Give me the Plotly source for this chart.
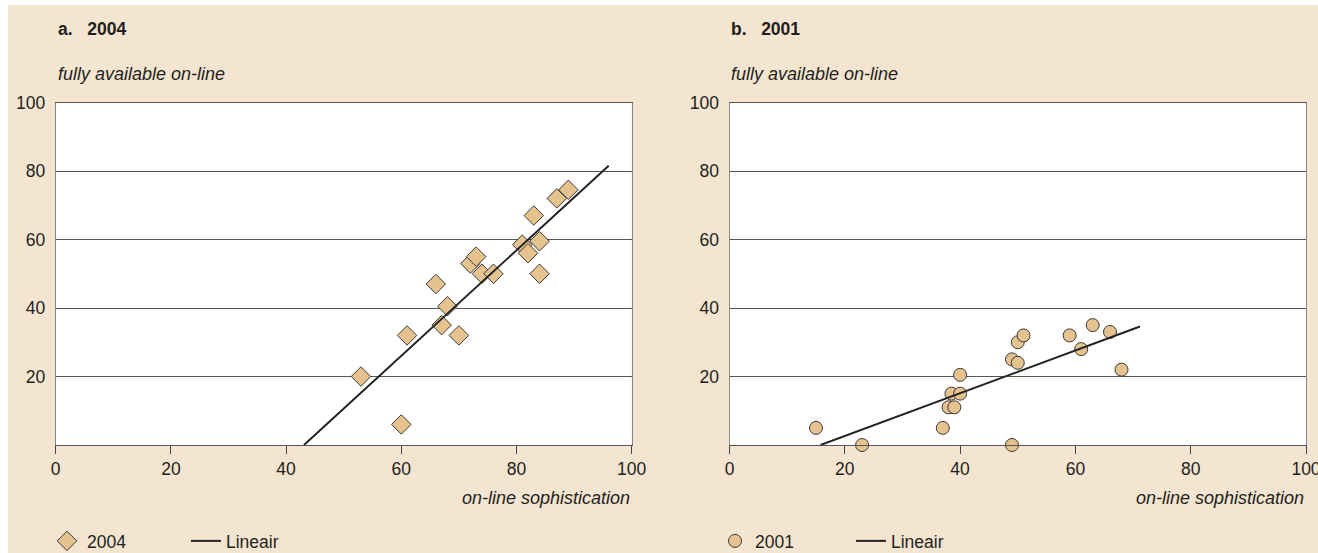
import plotly.graph_objects as go

# ---------------- data ----------------
a_x = [53, 60, 61, 66, 67, 68, 70, 72, 73, 74, 76, 81, 82, 83, 84, 84, 87, 89]
a_y = [20, 6, 32, 47, 35, 40.5, 32, 53, 55, 50, 50, 58.5, 56, 67, 59.5, 50, 72, 74.5]
a_trend_x = [43.1, 96.0]
a_trend_y = [0.0, 81.5]

b_x = [15, 23, 37, 38, 39, 38.5, 40, 40, 49, 49, 50, 50, 51, 59, 61, 63, 66, 68]
b_y = [5, 0, 5, 11, 11, 15, 15, 20.5, 0, 25, 24, 30, 32, 32, 28, 35, 33, 22]
b_trend_x = [15.8, 71.2]
b_trend_y = [0.0, 34.6]

x_ticks = [0, 20, 40, 60, 80, 100]
y_ticks = [20, 40, 60, 80, 100]

NB = "\u00a0"
panel_titles = ["a." + NB * 3 + "2004", "b." + NB * 3 + "2001"]
y_title = "fully available on-line"
x_title = "on-line sophistication"
series_names = ["2004", "2001"]
trend_name = "Lineair"

# ---------------- style ----------------
W, H = 1318, 553
BEIGE = "#F4E5D1"
FILL = "#E5C28E"
EDGE = "#3a3a3a"
TXT = "#231F20"
FONT = "Liberation Sans, Arial, sans-serif"
FS = 17.5


def fx(p):
    return p / W


def fy(p):
    return 1 - p / H


top_px, bot_px = 102.5, 445.0
dom_a = [fx(55.7), fx(631.7)]
dom_b = [fx(729.5), fx(1306.0)]
dom_y = [fy(bot_px), fy(top_px)]

fig = go.Figure()

fig.add_trace(go.Scatter(
    x=a_x, y=a_y, mode="markers", name=series_names[0],
    marker=dict(symbol="diamond", size=15, color=FILL, line=dict(color=EDGE, width=1)),
    xaxis="x", yaxis="y", legend="legend", cliponaxis=False))
fig.add_trace(go.Scatter(
    x=a_trend_x, y=a_trend_y, mode="lines", name=trend_name,
    line=dict(color="#222", width=2), xaxis="x", yaxis="y", legend="legend"))
fig.add_trace(go.Scatter(
    x=b_x, y=b_y, mode="markers", name=series_names[1],
    marker=dict(symbol="circle", size=13, color=FILL, line=dict(color=EDGE, width=1)),
    xaxis="x2", yaxis="y2", legend="legend2", cliponaxis=False))
fig.add_trace(go.Scatter(
    x=b_trend_x, y=b_trend_y, mode="lines", name=trend_name,
    line=dict(color="#222", width=2), xaxis="x2", yaxis="y2", legend="legend2"))

xax = dict(range=[0, 100], tickvals=x_ticks, showgrid=False, zeroline=False,
           showline=True, linecolor="#555", linewidth=1, mirror=True,
           ticks="outside", ticklen=8, tickcolor="#444", tickwidth=1,
           ticklabeloverflow="allow",
           tickfont=dict(size=FS, color=TXT, family=FONT), fixedrange=True)
yax = dict(range=[0, 100], tickvals=y_ticks, showgrid=True, gridcolor="#555", gridwidth=1,
           zeroline=False, showline=True, linecolor="#888", linewidth=1, mirror=True,
           ticks="", ticklabelstandoff=6,
           tickfont=dict(size=FS, color=TXT, family=FONT), fixedrange=True)

leg_common = dict(orientation="h", xref="container", yref="container",
                  yanchor="middle", y=fy(541), xanchor="left",
                  bgcolor="rgba(0,0,0,0)", borderwidth=0,
                  font=dict(size=FS, color=TXT, family=FONT),
                  entrywidthmode="pixels", itemclick=False, itemdoubleclick=False)

fig.update_layout(
    width=W, height=H,
    margin=dict(l=0, r=0, t=0, b=0, autoexpand=False),
    paper_bgcolor=BEIGE, plot_bgcolor="white",
    font=dict(family=FONT, color=TXT, size=FS),
    xaxis=dict(domain=dom_a, anchor="y", **xax),
    yaxis=dict(domain=dom_y, anchor="x", **yax),
    xaxis2=dict(domain=dom_b, anchor="y2", **xax),
    yaxis2=dict(domain=dom_y, anchor="x2", **yax),
    legend=dict(x=fx(47), entrywidth=94, **leg_common),
    legend2=dict(x=fx(715), entrywidth=91, **leg_common),
    showlegend=True,
)

# white page strips around the beige panel
fig.add_shape(type="rect", xref="paper", yref="paper", x0=0, x1=1, y0=fy(5), y1=1,
              fillcolor="white", line=dict(width=0), layer="below")
fig.add_shape(type="rect", xref="paper", yref="paper", x0=0, x1=fx(8), y0=0, y1=1,
              fillcolor="white", line=dict(width=0), layer="below")

ann = []
for title, left in zip(panel_titles, [56, 729]):
    ann.append(dict(text="<b>" + title + "</b>", x=fx(left), y=fy(29), xref="paper", yref="paper",
                    xanchor="left", yanchor="middle", showarrow=False,
                    font=dict(size=FS, color=TXT, family=FONT)))
    ann.append(dict(text="<i>" + y_title + "</i>", x=fx(left), y=fy(74), xref="paper", yref="paper",
                    xanchor="left", yanchor="middle", showarrow=False,
                    font=dict(size=18, color=TXT, family=FONT)))
for right in [631.7, 1306.0]:
    ann.append(dict(text="<i>" + x_title + "</i>", x=fx(right), y=fy(498), xref="paper", yref="paper",
                    xanchor="right", yanchor="middle", showarrow=False,
                    font=dict(size=18, color=TXT, family=FONT)))
fig.update_layout(annotations=ann)

fig.write_html("out.html", post_script="document.body.style.margin='0';",
               config={"displayModeBar": False})
